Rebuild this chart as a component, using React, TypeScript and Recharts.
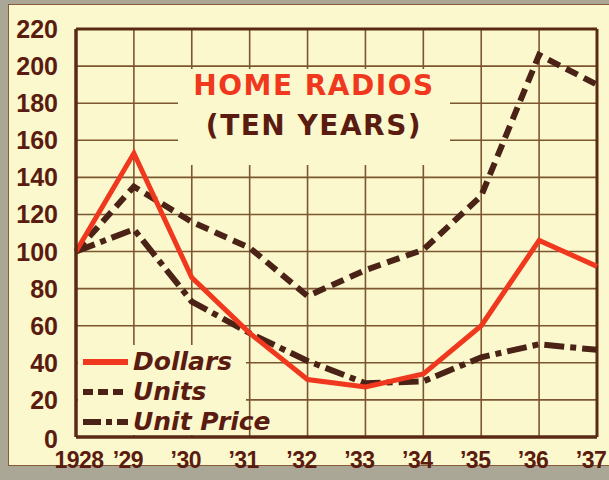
import React from 'react';
import { LineChart, Line, XAxis, YAxis, CartesianGrid, Legend, ReferenceLine } from 'recharts';

const years = [1928, 1929, 1930, 1931, 1932, 1933, 1934, 1935, 1936, 1937];
const yearLabels = ['1928', '’29', '’30', '’31', '’32', '’33', '’34', '’35', '’36', '’37'];
const dollars = [100, 153, 86, 56, 31, 27, 34, 60, 106, 92];
const units = [100, 135, 116, 102, 76, 90, 101, 130, 206, 190];
const unitPrice = [100, 112, 73, 56, 41, 29, 30, 43, 50, 47];
const yTicks = [0, 20, 40, 60, 80, 100, 120, 140, 160, 180, 200, 220];
const seriesNames = ['Dollars', 'Units', 'Unit Price'];

const data = years.map((y, i) => ({
  year: y,
  dollars: dollars[i],
  units: units[i],
  unitPrice: unitPrice[i],
}));

const CARD = '#fbf8cd';
const BROWN = '#5a1b10';
const LINE_DARK = '#4a2216';
const RED = '#f0381f';
const GRID = '#7c5630';

const dashFor: Record<string, string | undefined> = {
  dollars: undefined,
  units: '13 7',
  unitPrice: '20 6 6 6',
};

const XTick = (props: any) => {
  const { x, y, payload } = props;
  const idx = years.indexOf(payload.value);
  const dx = idx === 0 ? 3 : -6;
  return (
    <text
      x={x + dx}
      y={y + 21}
      textAnchor="middle"
      dominantBaseline="central"
      fill={BROWN}
      fontFamily="'Liberation Sans', Arial, sans-serif"
      fontWeight="bold"
      fontSize={23}
      letterSpacing={-0.5}
    >
      {yearLabels[idx]}
    </text>
  );
};

const YTick = (props: any) => {
  const { y, payload } = props;
  return (
    <text
      x={58}
      y={y + (payload.value === 0 ? 2 : 0)}
      textAnchor="end"
      dominantBaseline="central"
      fill={BROWN}
      fontFamily="'Liberation Sans', Arial, sans-serif"
      fontWeight="bold"
      fontSize={25}
    >
      {payload.value}
    </text>
  );
};

const order = ['dollars', 'units', 'unitPrice'];

const LegendContent = (props: any) => {
  const payload = [...(props.payload || [])].sort(
    (a: any, b: any) => order.indexOf(a.dataKey) - order.indexOf(b.dataKey)
  );
  return (
    <div style={{ background: CARD, width: 168, height: 90, paddingTop: 2, boxSizing: 'border-box', overflow: 'visible' }}>
      {payload.map((p: any, i: number) => (
        <div key={i} style={{ display: 'flex', alignItems: 'center', height: 30, whiteSpace: 'nowrap' }}>
          <svg width={55} height={14} style={{ display: 'block', flex: 'none' }}>
            <line
              x1={5}
              y1={7}
              x2={50}
              y2={7}
              stroke={p.color}
              strokeWidth={6}
              strokeDasharray={p.dataKey === 'units' ? '10 5' : p.dataKey === 'unitPrice' ? '18 5 6 5' : undefined}
            />
          </svg>
          <span
            style={{
              fontFamily: "'DejaVu Sans', sans-serif",
              fontStyle: 'italic',
              fontWeight: 'bold',
              fontSize: 25,
              color: BROWN,
              lineHeight: '30px',
              whiteSpace: 'nowrap',
            }}
          >
            {p.value}
          </span>
        </div>
      ))}
    </div>
  );
};

export default function App() {
  return (
    <div style={{ position: 'absolute', left: 0, top: 0, width: 609, height: 480, background: '#aba797', overflow: 'hidden' }}>
      <div
        style={{
          position: 'absolute',
          left: 8,
          top: 4,
          width: 610,
          height: 462,
          background: CARD,
          border: '1.5px solid #8a5a3a',
          boxSizing: 'border-box',
        }}
      />
      <div style={{ position: 'absolute', left: 0, top: 0 }}>
        <LineChart width={609} height={480} data={data} margin={{ top: 29, right: 12, bottom: 0, left: 0 }}>
          <CartesianGrid stroke={GRID} strokeWidth={1.6} horizontalValues={yTicks} verticalValues={years} />
          <XAxis
            dataKey="year"
            type="number"
            domain={[1928, 1937]}
            ticks={years}
            tick={<XTick />}
            tickLine={false}
            tickSize={0}
            height={43}
            axisLine={{ stroke: '#5a2a14', strokeWidth: 3.5 }}
            interval={0}
          />
          <YAxis
            type="number"
            domain={[0, 220]}
            ticks={yTicks}
            tick={<YTick />}
            tickLine={false}
            tickSize={0}
            width={76}
            axisLine={{ stroke: '#5a2a14', strokeWidth: 3.5 }}
            interval={0}
          />
          <ReferenceLine y={220} stroke="#5a2a14" strokeWidth={3} />
          <ReferenceLine x={1937} stroke="#5a2a14" strokeWidth={3} />
          <Line
            type="linear"
            dataKey="units"
            name={seriesNames[1]}
            stroke={LINE_DARK}
            strokeWidth={6}
            strokeDasharray={dashFor.units}
            dot={false}
            activeDot={false}
            isAnimationActive={false}
            legendType="line"
          />
          <Line
            type="linear"
            dataKey="unitPrice"
            name={seriesNames[2]}
            stroke={LINE_DARK}
            strokeWidth={6}
            strokeDasharray={dashFor.unitPrice}
            dot={false}
            activeDot={false}
            isAnimationActive={false}
            legendType="line"
          />
          <Line
            type="linear"
            dataKey="dollars"
            name={seriesNames[0]}
            stroke={RED}
            strokeWidth={5}
            dot={false}
            activeDot={false}
            isAnimationActive={false}
            legendType="line"
          />
          <Legend
            content={<LegendContent />}
            layout="vertical"
            align="center"
            verticalAlign="middle"
            wrapperStyle={{ position: 'absolute', left: 78, top: 345, width: 168, height: 90, bottom: 'auto', right: 'auto' }}
          />
        </LineChart>
      </div>
      <div
        style={{
          position: 'absolute',
          left: 178,
          top: 69,
          width: 272,
          height: 96,
          background: CARD,
          textAlign: 'center',
          fontFamily: "'DejaVu Sans', sans-serif",
          fontWeight: 'bold',
          fontSize: 28,
          letterSpacing: 1.5,
        }}
      >
        <div style={{ color: RED, position: 'absolute', left: 0, right: 0, top: 0, lineHeight: '34px' }}>HOME RADIOS</div>
        <div style={{ color: BROWN, position: 'absolute', left: 0, right: 0, top: 40, lineHeight: '34px' }}>(TEN YEARS)</div>
      </div>
    </div>
  );
}
